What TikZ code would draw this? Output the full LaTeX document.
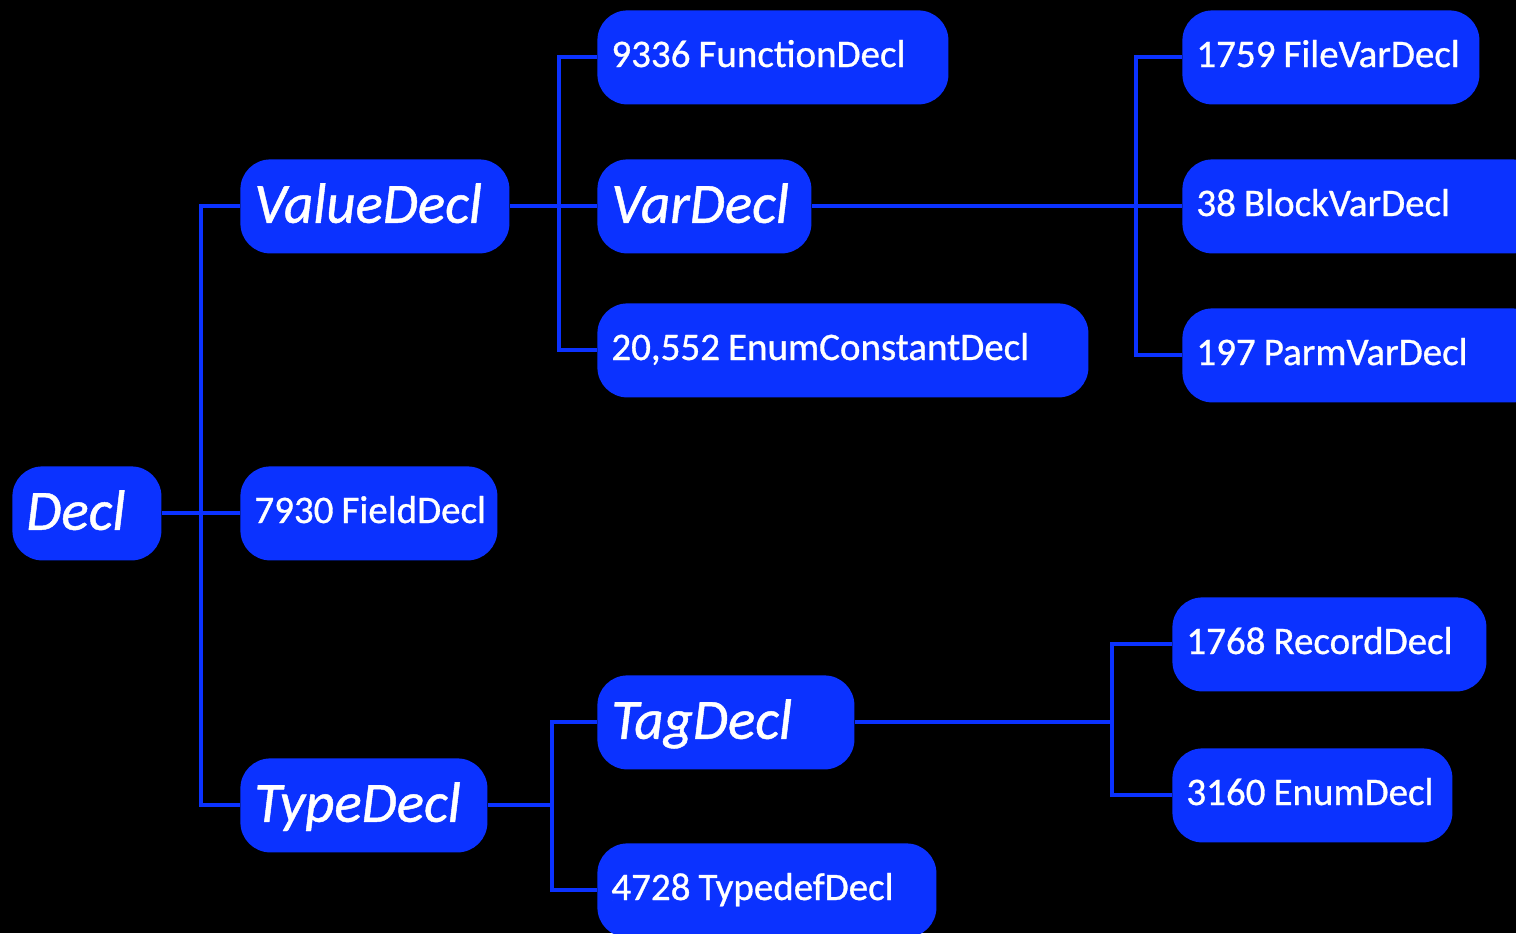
\documentclass[tikz,border=0pt]{standalone}
\usepackage{fontspec}
\setmainfont{Carlito}[RawFeature={embolden=0.8}]
\setlength{\parindent}{0pt}
\definecolor{declblue}{RGB}{11,50,255}
\tikzset{
  declbox/.style={fill=declblue, rounded corners=15pt, anchor=north west,
    minimum height=47pt, inner xsep=0pt, inner ysep=0pt, align=left,
    text=white, execute at begin node={\spaceskip=4pt\relax\hspace*{7pt}}},
  smallbox/.style={declbox, font=\fontsize{19.5}{20}\selectfont,
    text height=12.6pt, text depth=3pt},
  bigbox/.style={declbox, font=\fontsize{28.5}{30}\selectfont\itshape,
    text height=18.4pt, text depth=2pt},
  link/.style={draw=declblue, line width=2pt}
}
\begin{document}
\begin{tikzpicture}[x=0.5pt, y=-0.5pt]
  \useasboundingbox (0,0) rectangle (1516,933);
  \fill[black] (0,0) rectangle (1516,933);
  \clip (0,0) rectangle (1516,933);

  % first level
  \node[bigbox, text width=74.5pt] (decl) at (12,466) {Decl};

  % second level
  \node[bigbox, text width=134.5pt] (value) at (240,159) {ValueDecl};
  \node[smallbox, text width=128.5pt] (field) at (240,466) {7930 FieldDecl};
  \node[bigbox, text width=123.5pt] (type) at (240,758) {TypeDecl};

  % value declarations
  \node[smallbox, text width=175.5pt] (func) at (597,10) {9336 FunctionDecl};
  \node[bigbox, text width=107pt] (var) at (597,159) {VarDecl};
  \node[smallbox, text width=245.5pt] (enumc) at (597,303) {20,552 EnumConstantDecl};

  % variable kinds
  \node[smallbox, text width=148.5pt] (file) at (1182,10) {1759 FileVarDecl};
  \node[smallbox, text width=180pt] (block) at (1182,159) {38 BlockVarDecl};
  \node[smallbox, text width=180pt] (parm) at (1182,308) {197 ParmVarDecl};

  % type declarations
  \node[bigbox, text width=128.5pt] (tag) at (597,675) {TagDecl};
  \node[smallbox, text width=169.5pt] (typedef) at (597,843) {4728 TypedefDecl};
  \node[smallbox, text width=157pt] (record) at (1172,597) {1768 RecordDecl};
  \node[smallbox, text width=140pt] (enum) at (1172,748) {3160 EnumDecl};

  % connectors
  \draw[link] (decl.east) -- (field.west);
  \draw[link] (value.west) -- ++(-39,0) |- (type.west);

  \draw[link] (value.east) -- (var.west);
  \draw[link] (func.west) -- ++(-38,0) |- (enumc.west);

  \draw[link] (var.east) -- (block.west);
  \draw[link] (file.west) -- ++(-46,0) |- (parm.west);

  \draw[link] (type.east) -- ++(65,0);
  \draw[link] (tag.west) -- ++(-45,0) |- (typedef.west);

  \draw[link] (tag.east) -- ++(258,0);
  \draw[link] (record.west) -- ++(-60,0) |- (enum.west);
\end{tikzpicture}
\end{document}
